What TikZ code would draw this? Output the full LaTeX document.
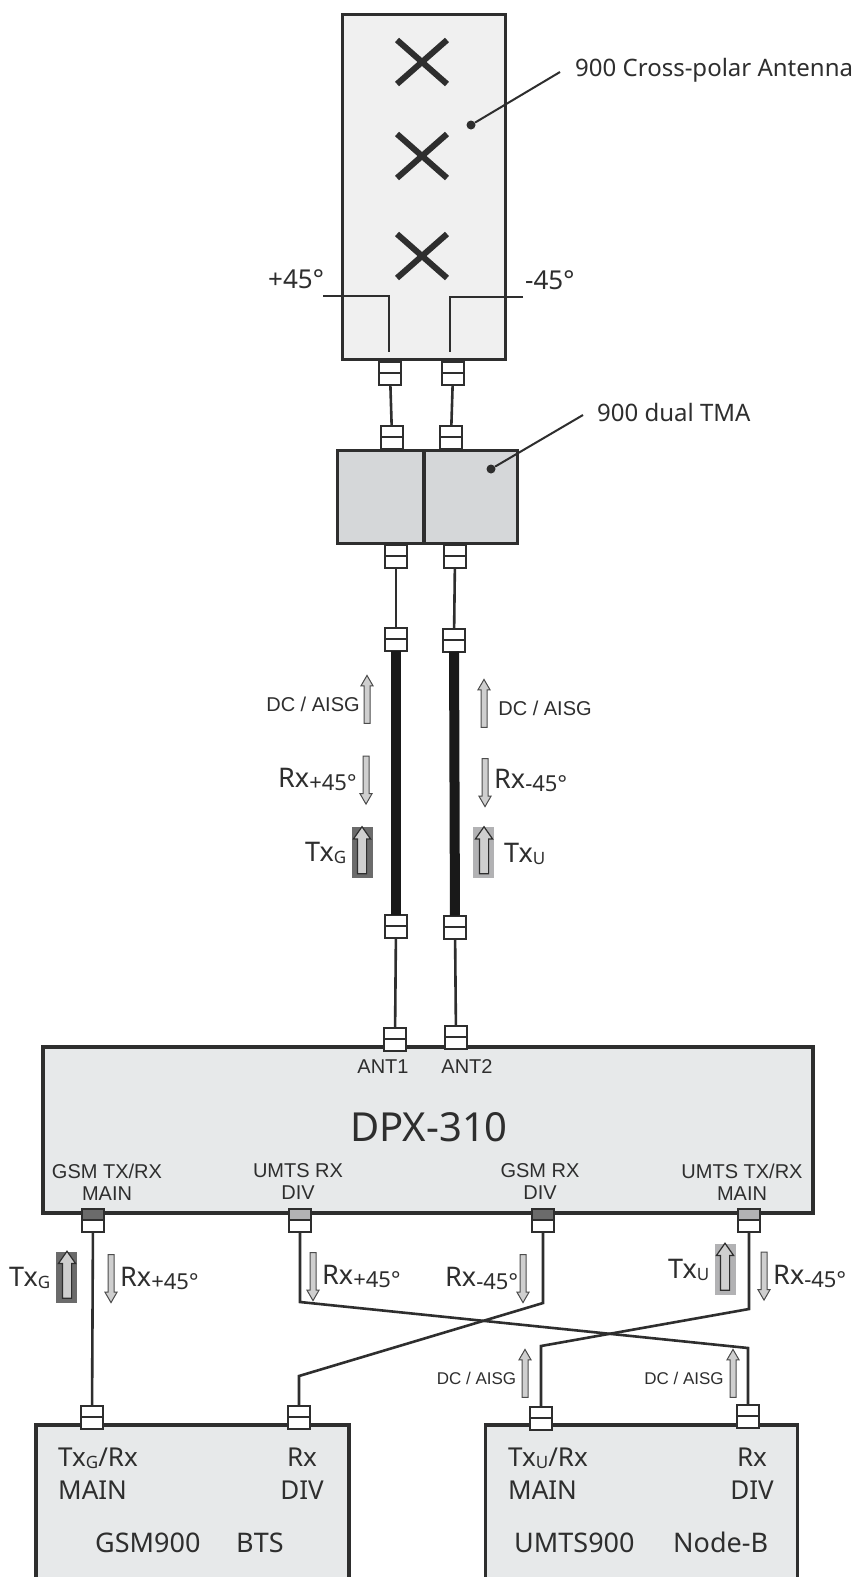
\documentclass[tikz,border=0pt]{standalone}
\usepackage{fontspec}
\usetikzlibrary{shapes.arrows, shapes.misc}
\setmainfont{Noto Sans}
\newfontfamily\arialfont{Liberation Sans}
\definecolor{inkgray}{HTML}{2E2E2E}
\definecolor{boxgray}{HTML}{E7E9EA}
\definecolor{antgray}{HTML}{F0F0F0}
\definecolor{tmagray}{HTML}{D5D7D9}
\definecolor{arrowgray}{HTML}{CFCFCF}
\definecolor{darkport}{HTML}{6B6B6B}
\definecolor{lightport}{HTML}{B2B2B4}
\newcommand{\subtext}[1]{\raisebox{-3pt}{\fontsize{22}{22}\selectfont #1}}
\newcommand{\subsmall}[1]{\raisebox{-2pt}{\fontsize{17}{17}\selectfont #1}}

\begin{document}
\begin{tikzpicture}[
    x=1pt, y=-1pt,
    box/.style={draw=inkgray, line width=3.6pt, inner sep=0pt, outer sep=0pt},
    conn/.style={draw=inkgray, fill=white, line width=2pt, minimum width=22.5pt, minimum height=23pt,
        inner sep=0pt, outer sep=0pt,
        path picture={\fill[#1] (path picture bounding box.north west) rectangle (path picture bounding box.east);
            \draw[inkgray, line width=2pt] (path picture bounding box.west) -- (path picture bounding box.east);}},
    conn/.default=white,
    feeder/.style={draw=inkgray, line width=2.6pt},
    jumper/.style={draw=black!90, line width=10pt},
    xmark/.style={cross out, draw=inkgray, line width=6pt, minimum width=44pt, minimum height=38pt, inner sep=0pt},
    smallarrow/.style={single arrow, draw=black!70, fill=arrowgray, line width=1pt, inner xsep=0pt, inner ysep=2.5pt,
        minimum height=48pt, minimum width=12pt, single arrow head extend=3pt, single arrow tip angle=60},
    bigarrow/.style={single arrow, draw=inkgray, fill=arrowgray, line width=1.2pt, inner xsep=0pt, inner ysep=4pt,
        minimum height=47pt, minimum width=17pt, single arrow head extend=4pt, single arrow tip angle=70},
    patch/.style={inner sep=0pt, minimum width=21pt, minimum height=51pt},
    arial/.style={text=inkgray, inner sep=0pt, align=center, font=\arialfont\fontsize{20}{22}\selectfont},
    arialsmall/.style={text=inkgray, inner sep=0pt, font=\arialfont\fontsize{17}{20}\selectfont},
    big/.style={text=inkgray, inner sep=0pt, anchor=base west, font=\fontsize{27}{30}\selectfont},
    boxtext/.style={text=inkgray, inner sep=0pt, anchor=base west, font=\fontsize{26}{30}\selectfont},
    rowtext/.style={text=inkgray, inner sep=0pt, anchor=base west, font=\fontsize{27}{30}\selectfont},
    callout/.style={text=inkgray, inner sep=0pt, anchor=base west, font=\fontsize{24}{30}\selectfont},
    dot/.style={circle, fill=inkgray, inner sep=0pt, minimum size=9pt}]
    \path[use as bounding box, clip] (0,0) rectangle (859,1577);
    \fill[white] (0,0) rectangle (859,1577);

    % antenna and TMA
    \node (antenna) [box, fill=antgray, minimum width=163pt, minimum height=345pt] at (424,187) {};
    \foreach \n/\y in {1/62, 2/156, 3/256}
        \node (x\n) [xmark] at (422,\y) {};
    \node (tma) [box, fill=tmagray, minimum width=180pt, minimum height=93pt] at (427.5,497) {};
    \coordinate (tma top) at (424,450);
    \coordinate (tma bottom) at (424,544);
    \draw[inkgray, line width=3.6pt] (tma top) -- (tma bottom);

    % dipole feeds
    \coordinate (feed1 a) at (323,296);
    \coordinate (feed1 b) at (389,296);
    \coordinate (feed1 c) at (389,352);
    \coordinate (feed2 a) at (523,297);
    \coordinate (feed2 b) at (450,297);
    \coordinate (feed2 c) at (450,352);
    \draw[inkgray, line width=1.6pt] (feed1 a) -- (feed1 b) -- (feed1 c);
    \draw[inkgray, line width=1.6pt] (feed2 a) -- (feed2 b) -- (feed2 c);

    % DPX and base stations
    \node (dpx) [box, fill=boxgray, minimum width=770pt, minimum height=166pt] at (428,1130) {};
    \node (bts) [box, fill=boxgray, minimum width=313pt, minimum height=190pt] at (192.5,1520) {};
    \node (nodeb) [box, fill=boxgray, minimum width=312pt, minimum height=190pt] at (641.5,1520) {};

    % connectors
    \foreach \nm/\x/\y in {a1/390/373, a2/453/373, t1/392/437, t2/451/437, u1/396/556, u2/455/556,
        c1/396/639, c2/454/640, d1/396/926, d2/455/927, ant1/395/1039, ant2/456/1037,
        b1/92/1417, b2/299/1417, n1/541/1418, n2/748/1416}
        \node (\nm) [conn] at (\x,\y) {};
    \node (p1) [conn=darkport] at (93,1220) {};
    \node (p2) [conn=lightport] at (300,1220) {};
    \node (p3) [conn=darkport] at (543,1220) {};
    \node (p4) [conn=lightport] at (749,1220) {};

    % cables
    \foreach \m/\n in {a1/t1, a2/t2, u1/c1, u2/c2, d1/ant1, d2/ant2}
        \draw[feeder] (\m) -- (\n);
    \draw[jumper] (c1) -- (d1);
    \draw[jumper] (c2) -- (d2);
    \draw[feeder] (p1) -- (b1);
    \coordinate (p2 bend) at (300,1302);
    \coordinate (n2 bend) at (748,1348);
    \coordinate (p3 bend) at (543,1303);
    \coordinate (b2 bend) at (299,1376);
    \coordinate (p4 bend) at (749,1309);
    \coordinate (n1 bend) at (541,1346);
    \draw[feeder] (p2) -- (p2 bend) -- (n2 bend) -- (n2);
    \draw[feeder] (p3) -- (p3 bend) -- (b2 bend) -- (b2);
    \draw[feeder] (p4) -- (p4 bend) -- (n1 bend) -- (n1);

    % leaders
    \node (dot1) [dot] at (471,125) {};
    \coordinate (lead1) at (560,72);
    \draw[inkgray, line width=2pt] (dot1) -- (lead1);
    \node (dot2) [dot] at (491,469) {};
    \coordinate (lead2) at (583,415);
    \draw[inkgray, line width=2pt] (dot2) -- (lead2);

    % signal arrows
    \node (patch1) [patch, fill=darkport] at (362.5,852.5) {};
    \node (patch2) [patch, fill=lightport] at (483.5,852.5) {};
    \node (patch3) [patch, fill=darkport] at (66.5,1277) {};
    \node (patch4) [patch, fill=lightport] at (725,1269) {};
    \foreach \nm/\x/\y in {up1/367/702, up2/484/706, up3/525/1376, up4/733/1376}
        \node (\nm) [smallarrow, rotate=90] at (\x,\y) {};
    \foreach \nm/\x/\y in {dn1/366/777.5, dn2/485/780, dn3/111/1276, dn4/313/1274, dn5/523/1276, dn6/764/1273.5}
        \node (\nm) [smallarrow, rotate=-90] at (\x,\y) {};
    \foreach \nm/\x/\y in {tx1/362/853.5, tx2/484/853.5, tx3/67/1278, tx4/725/1270}
        \node (\nm) [bigarrow, rotate=90] at (\x,\y) {};

    % labels
    \node (antenna label) [callout] at (575,76) {900 Cross-polar Antenna};
    \node (tma label) [callout] at (597,421) {900 dual TMA};
    \node (plus label) [boxtext] at (268,288) {+45°};
    \node (minus label) [boxtext] at (525,289) {-45°};
    \node (dpx label) [text=inkgray, inner sep=0pt, font=\fontsize{40}{44}\selectfont] at (429,1127) {DPX-310};
    \node (ant1 label) [arial] at (383,1067) {ANT1};
    \node (ant2 label) [arial] at (467,1067) {ANT2};
    \node (p1 label) [arial] at (107,1182) {GSM TX/RX\\MAIN};
    \node (p2 label) [arial] at (298,1182) {UMTS RX\\DIV};
    \node (p3 label) [arial] at (540,1182) {GSM RX\\DIV};
    \node (p4 label) [arial] at (742,1182) {UMTS TX/RX\\MAIN};
    \node (up1 label) [arial] at (313,704) {DC / AISG};
    \node (up2 label) [arial] at (545,708) {DC / AISG};
    \node (up3 label) [arialsmall] at (476.5,1378) {DC / AISG};
    \node (up4 label) [arialsmall] at (684,1378) {DC / AISG};
    \node (dn1 label) [big] at (278,787) {Rx\subtext{+45°}};
    \node (dn2 label) [big] at (494,788) {Rx\subtext{-45°}};
    \node (dn3 label) [big] at (120,1286) {Rx\subtext{+45°}};
    \node (dn4 label) [big] at (322,1284) {Rx\subtext{+45°}};
    \node (dn5 label) [big] at (445,1286) {Rx\subtext{-45°}};
    \node (dn6 label) [big] at (773,1284) {Rx\subtext{-45°}};
    \node (tx1 label) [big] at (305,861) {Tx\subsmall{G}};
    \node (tx2 label) [big] at (504,862) {Tx\subsmall{U}};
    \node (tx3 label) [big] at (9,1286) {Tx\subsmall{G}};
    \node (tx4 label) [big] at (668,1278) {Tx\subsmall{U}};
    \node (b1 label) [boxtext] at (58,1466) {Tx\subsmall{G}/Rx};
    \node (b1 sub) [boxtext] at (58,1499) {MAIN};
    \node (b2 label) [boxtext, anchor=base] at (302,1466) {Rx};
    \node (b2 sub) [boxtext, anchor=base] at (302,1499) {DIV};
    \node (gsm label) [rowtext] at (95,1552) {GSM900};
    \node (bts label) [rowtext] at (236,1552) {BTS};
    \node (n1 label) [boxtext] at (508,1466) {Tx\subsmall{U}/Rx};
    \node (n1 sub) [boxtext] at (508,1499) {MAIN};
    \node (n2 label) [boxtext, anchor=base] at (752,1466) {Rx};
    \node (n2 sub) [boxtext, anchor=base] at (752,1499) {DIV};
    \node (umts label) [rowtext] at (514,1552) {UMTS900};
    \node (nodeb label) [rowtext] at (673,1552) {Node-B};
\end{tikzpicture}
\end{document}
